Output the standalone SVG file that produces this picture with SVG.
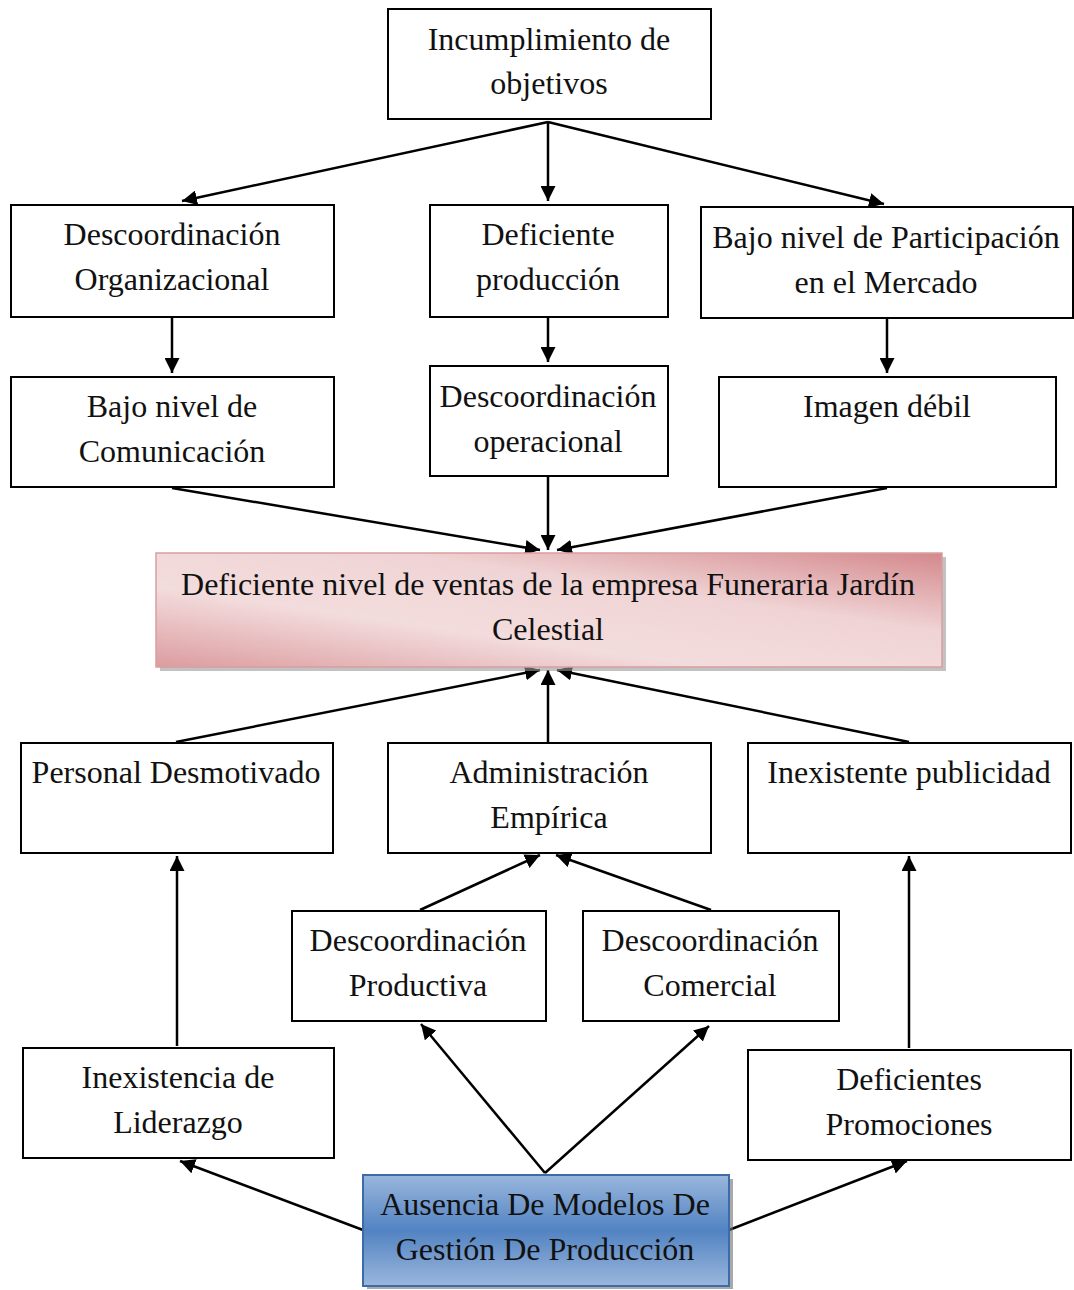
<svg xmlns="http://www.w3.org/2000/svg" width="1074" height="1290" viewBox="0 0 1074 1290">
<defs>
<style>
.b{fill:#fff;stroke:#000;stroke-width:2}
text{font-family:"Liberation Serif","Times New Roman",serif;font-size:32px;fill:#111;text-anchor:middle}
.c{stroke:#000;stroke-width:2.5;fill:none;marker-end:url(#ah)}
</style>
<marker id="ah" viewBox="0 0 10 10" refX="10" refY="5" markerWidth="6" markerHeight="6" markerUnits="strokeWidth" orient="auto">
<path d="M0,0 L10,5 L0,10 z" fill="#000"/>
</marker>
<linearGradient id="pink" x1="0" y1="1" x2="1" y2="0">
<stop offset="0" stop-color="#dc9c9f"/>
<stop offset="0.35" stop-color="#f3dcdd"/>
<stop offset="0.65" stop-color="#f0d4d5"/>
<stop offset="1" stop-color="#d4888c"/>
</linearGradient>
<linearGradient id="blue" x1="0" y1="0" x2="0" y2="1">
<stop offset="0" stop-color="#9ab7dd"/>
<stop offset="0.5" stop-color="#5283c2"/>
<stop offset="1" stop-color="#9ab7dd"/>
</linearGradient>
</defs>

<g id="connectors">
<path class="c" d="M548,122 L182,201"/>
<path class="c" d="M548,122 L548,201"/>
<path class="c" d="M548,122 L884,204"/>
<path class="c" d="M172,318 L172,373"/>
<path class="c" d="M548,318 L548,362"/>
<path class="c" d="M887,319 L887,373"/>
<path class="c" d="M172,488 L540,550"/>
<path class="c" d="M548,477 L548,550"/>
<path class="c" d="M887,488 L557,550"/>
<path class="c" d="M176,742 L540,670"/>
<path class="c" d="M548,742 L548,670"/>
<path class="c" d="M909,742 L557,670"/>
<path class="c" d="M177,1046 L177,856"/>
<path class="c" d="M909,1048 L909,856"/>
<path class="c" d="M420,910 L540,855"/>
<path class="c" d="M711,910 L556,855"/>
<path class="c" d="M545,1173 L421,1024"/>
<path class="c" d="M545,1173 L709,1026"/>
<path class="c" d="M363,1230 L180,1161"/>
<path class="c" d="M729,1230 L907,1161"/>
</g>

<g id="n1"><rect class="b" x="388" y="9" width="323" height="110"/><text x="549" y="50">Incumplimiento de</text><text x="549" y="94">objetivos</text></g>
<g id="n2"><rect class="b" x="11" y="205" width="323" height="112"/><text x="172" y="245">Descoordinación</text><text x="172" y="290">Organizacional</text></g>
<g id="n3"><rect class="b" x="430" y="205" width="238" height="112"/><text x="548" y="245">Deficiente</text><text x="548" y="290">producción</text></g>
<g id="n4"><rect class="b" x="701" y="207" width="372" height="111"/><text x="886" y="248">Bajo nivel de Participación</text><text x="886" y="293">en el Mercado</text></g>
<g id="n5"><rect class="b" x="11" y="377" width="323" height="110"/><text x="172" y="417">Bajo nivel de</text><text x="172" y="462">Comunicación</text></g>
<g id="n6"><rect class="b" x="430" y="366" width="238" height="110"/><text x="548" y="407">Descoordinación</text><text x="548" y="452">operacional</text></g>
<g id="n7"><rect class="b" x="719" y="377" width="337" height="110"/><text x="887" y="417">Imagen débil</text></g>

<g id="n8">
<rect x="160" y="557" width="786" height="114" fill="#9a9a9a" opacity="0.6"/>
<rect x="156" y="553" width="786" height="114" fill="url(#pink)" stroke="#d99ea0" stroke-width="1.5"/>
<text x="548" y="595">Deficiente nivel de ventas de la empresa Funeraria Jardín</text>
<text x="548" y="640">Celestial</text>
</g>

<g id="n9"><rect class="b" x="21" y="743" width="312" height="110"/><text x="176" y="783">Personal Desmotivado</text></g>
<g id="n10"><rect class="b" x="388" y="743" width="323" height="110"/><text x="549" y="783">Administración</text><text x="549" y="828">Empírica</text></g>
<g id="n11"><rect class="b" x="748" y="743" width="323" height="110"/><text x="909" y="783">Inexistente publicidad</text></g>
<g id="n12"><rect class="b" x="292" y="911" width="254" height="110"/><text x="418" y="951">Descoordinación</text><text x="418" y="996">Productiva</text></g>
<g id="n13"><rect class="b" x="583" y="911" width="256" height="110"/><text x="710" y="951">Descoordinación</text><text x="710" y="996">Comercial</text></g>
<g id="n14"><rect class="b" x="23" y="1048" width="311" height="110"/><text x="178" y="1088">Inexistencia de</text><text x="178" y="1133">Liderazgo</text></g>
<g id="n15"><rect class="b" x="748" y="1050" width="323" height="110"/><text x="909" y="1090">Deficientes</text><text x="909" y="1135">Promociones</text></g>

<g id="n16">
<rect x="367" y="1179" width="366" height="110" fill="#707070" opacity="0.6"/>
<rect x="363" y="1175" width="366" height="111" fill="url(#blue)" stroke="#3d6ba8" stroke-width="2"/>
<text x="545" y="1215">Ausencia De Modelos De</text>
<text x="545" y="1260">Gestión De Producción</text>
</g>
</svg>
